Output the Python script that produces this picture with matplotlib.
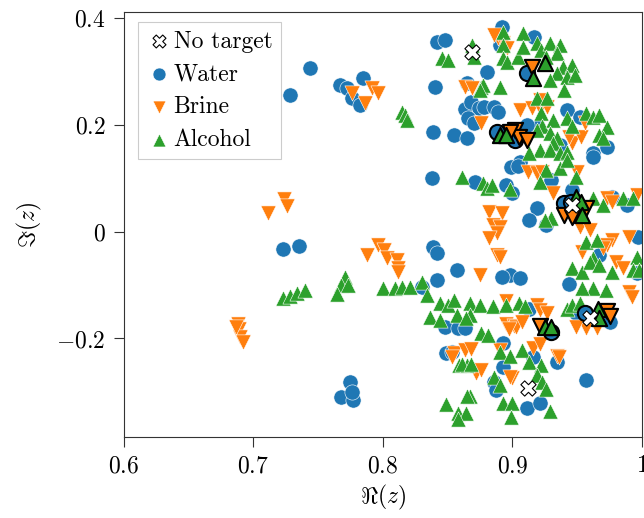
import matplotlib
matplotlib.use("Agg")
import matplotlib.pyplot as plt
import numpy as np

plt.rcParams['mathtext.fontset'] = 'cm'
plt.rcParams['font.family'] = ['cmr10', 'DejaVu Serif']
plt.rcParams['axes.formatter.use_mathtext'] = True

# ---------------- data ----------------
water = [
    (0.744, 0.307), (0.728, 0.256), (0.767, 0.275), (0.772, 0.270), (0.776, 0.251), (0.782, 0.238), (0.785, 0.288),
    (0.840, 0.272), (0.839, 0.187), (0.855, 0.181), (0.865, 0.176), (0.838, 0.100),
    (0.842, 0.356), (0.848, 0.360), (0.880, 0.300),
    (0.863, 0.230), (0.868, 0.243), (0.874, 0.232), (0.878, 0.234), (0.866, 0.213), (0.870, 0.204),
    (0.892, 0.383), (0.890, 0.350), (0.917, 0.365), (0.865, 0.279), (0.886, 0.234), (0.889, 0.224),
    (0.942, 0.228), (0.952, 0.215), (0.962, 0.147), (0.973, 0.159), (0.906, 0.130), (0.920, 0.196), (0.911, 0.200), (0.937, 0.163),
    (0.871, 0.093), (0.899, 0.121), (0.904, 0.124), (0.895, 0.087), (0.900, 0.072), (0.930, 0.097), (0.946, 0.078),
    (0.962, 0.140), (0.977, 0.065), (0.988, 0.050), (0.919, 0.044), (0.913, 0.022), (0.926, 0.013),
    (0.839, -0.029), (0.842, -0.040), (0.857, -0.072), (0.842, -0.091), (0.830, -0.104), (0.898, -0.081),
    (0.892, -0.085), (0.906, -0.087), (0.944, -0.097), (0.997, -0.010), (0.996, -0.078), (0.967, -0.044),
    (0.723, -0.033), (0.735, -0.027),
    (0.775, -0.282), (0.768, -0.310), (0.777, -0.316), (0.776, -0.300),
    (0.848, -0.179), (0.858, -0.181), (0.863, -0.180), (0.849, -0.228), (0.853, -0.226), (0.893, -0.209),
    (0.893, -0.254), (0.886, -0.282), (0.887, -0.297), (0.911, -0.331), (0.921, -0.321), (0.916, -0.235),
    (0.934, -0.245), (0.957, -0.278), (0.913, -0.144), (0.949, -0.153), (0.975, -0.170),
]
water_target = [(0.911, 0.298), (0.888, 0.187), (0.902, 0.172), (0.940, 0.053), (0.945, 0.055),
                (0.930, -0.188), (0.956, -0.153)]

brine = [
    (0.776, 0.260), (0.786, 0.241), (0.792, 0.270), (0.796, 0.260),
    (0.863, 0.271), (0.869, 0.270), (0.876, 0.204),
    (0.889, 0.363), (0.893, 0.354), (0.896, 0.344), (0.886, 0.369),
    (0.906, 0.228), (0.915, 0.232), (0.921, 0.232), (0.927, 0.234), (0.921, 0.247), (0.946, 0.166),
    (0.953, 0.178), (0.956, 0.204), (0.944, 0.178),
    (0.711, 0.035), (0.724, 0.061), (0.726, 0.048),
    (0.688, -0.172), (0.689, -0.183), (0.690, -0.197), (0.692, -0.207), (0.687, -0.178),
    (0.788, -0.044), (0.796, -0.025), (0.801, -0.034), (0.803, -0.050), (0.811, -0.053), (0.812, -0.068), (0.812, -0.075),
    (0.875, -0.081),
    (0.855, -0.228), (0.863, -0.222), (0.868, -0.219), (0.872, -0.264),
    (0.912, 0.112), (0.919, 0.110), (0.923, 0.112), (0.950, 0.112), (0.931, 0.072),
    (0.882, 0.037), (0.892, 0.035), (0.885, 0.013), (0.890, 0.009), (0.888, -0.003), (0.882, -0.012),
    (0.888, -0.044), (0.890, -0.048),
    (0.952, 0.009), (0.960, 0.003), (0.973, 0.063), (0.977, 0.055), (0.996, 0.069), (0.990, -0.010),
    (0.977, -0.016), (0.973, -0.025), (0.980, -0.057), (0.985, -0.068), (0.954, -0.038), (0.990, -0.113), (0.970, -0.031),
    (0.895, -0.129), (0.919, -0.138), (0.921, -0.147), (0.927, -0.153), (0.895, -0.172), (0.901, -0.176),
    (0.903, -0.179), (0.907, -0.170), (0.897, -0.182),
    (0.853, -0.234), (0.876, -0.259), (0.890, -0.222), (0.900, -0.275), (0.898, -0.273), (0.916, -0.217),
    (0.921, -0.210), (0.934, -0.232), (0.936, -0.235), (0.957, -0.181), (0.965, -0.181), (0.992, -0.123), (0.949, -0.179),
]
brine_target = [(0.915, 0.309), (0.902, 0.191), (0.905, 0.178), (0.911, 0.172), (0.898, 0.187),
                (0.940, 0.031), (0.946, 0.028), (0.957, 0.044), (0.921, -0.176), (0.973, -0.148), (0.975, -0.157)]

alcohol = [
    (0.664, 0.247),
    (0.815, 0.224), (0.817, 0.219), (0.819, 0.209),
    (0.846, 0.326), (0.850, 0.322), (0.869, 0.350), (0.870, 0.328),
    (0.861, 0.102), (0.877, 0.091), (0.880, 0.082),
    (0.876, 0.271), (0.877, 0.275), (0.875, 0.266), (0.890, 0.271),
    (0.893, 0.375), (0.908, 0.372), (0.893, 0.350), (0.893, 0.326), (0.896, 0.318), (0.904, 0.328), (0.908, 0.347),
    (0.919, 0.354), (0.922, 0.341), (0.929, 0.354), (0.937, 0.350), (0.934, 0.335), (0.926, 0.328), (0.939, 0.309),
    (0.946, 0.313), (0.934, 0.298), (0.929, 0.285), (0.942, 0.290), (0.948, 0.294), (0.940, 0.266),
    (0.919, 0.251), (0.927, 0.251), (0.922, 0.222), (0.923, 0.199), (0.931, 0.209), (0.942, 0.213), (0.946, 0.199),
    (0.957, 0.222), (0.962, 0.215), (0.967, 0.219), (0.973, 0.196), (0.967, 0.181), (0.970, 0.175), (0.919, 0.190),
    (0.929, 0.185), (0.934, 0.175), (0.931, 0.166), (0.921, 0.153), (0.929, 0.153), (0.937, 0.147), (0.942, 0.149), (0.913, 0.147),
    (0.884, 0.087), (0.898, 0.081), (0.926, 0.115), (0.937, 0.119), (0.949, 0.102), (0.942, 0.134), (0.921, 0.093),
    (0.930, 0.025), (0.925, 0.022), (0.962, 0.063), (0.970, 0.050), (0.985, 0.063), (0.993, 0.063),
    (0.957, -0.019), (0.965, -0.015), (0.962, -0.049), (0.996, -0.048), (0.977, -0.076), (0.993, -0.072), (0.998, -0.072),
    (0.946, -0.068), (0.954, -0.076), (0.960, -0.057), (0.967, -0.063), (0.962, -0.106), (0.954, -0.106), (0.972, -0.110),
    (0.723, -0.125), (0.728, -0.121), (0.734, -0.115), (0.740, -0.110),
    (0.771, -0.085), (0.768, -0.100), (0.765, -0.116), (0.773, -0.100), (0.800, -0.106), (0.809, -0.106), (0.815, -0.104),
    (0.821, -0.104), (0.830, -0.094), (0.834, -0.119), (0.844, -0.134), (0.850, -0.138), (0.855, -0.128), (0.867, -0.134),
    (0.875, -0.138), (0.836, -0.160), (0.844, -0.166), (0.857, -0.156), (0.867, -0.156), (0.876, -0.190), (0.881, -0.194),
    (0.885, -0.140), (0.895, -0.138), (0.905, -0.134), (0.910, -0.140), (0.942, -0.144), (0.946, -0.138), (0.952, -0.134), (0.864, -0.162),
    (0.890, -0.226), (0.898, -0.232), (0.907, -0.222), (0.913, -0.245), (0.922, -0.250), (0.919, -0.269), (0.923, -0.282),
    (0.926, -0.294), (0.886, -0.272), (0.890, -0.287), (0.859, -0.250), (0.865, -0.250), (0.867, -0.307), (0.849, -0.322),
    (0.858, -0.339), (0.864, -0.339), (0.858, -0.350), (0.893, -0.320), (0.900, -0.320), (0.899, -0.348), (0.929, -0.335),
    (0.861, -0.247), (0.868, -0.247), (0.865, -0.307),
]
alcohol_target = [(0.916, 0.288), (0.925, 0.316), (0.890, 0.181), (0.895, 0.181), (0.949, 0.065), (0.953, 0.055),
                  (0.954, 0.031), (0.925, -0.179), (0.930, -0.179), (0.966, -0.144), (0.967, -0.162)]

no_target = [(0.869, 0.337), (0.946, 0.050), (0.960, -0.162), (0.912, -0.293)]

labels = ["No target", "Water", "Brine", "Alcohol"]
colors = {"Water": "#1f77b4", "Brine": "#ff7f0e", "Alcohol": "#2ca02c"}
markers = {"Water": "o", "Brine": "v", "Alcohol": "^"}

xticks = [0.6, 0.7, 0.8, 0.9, 1.0]
xticklabels = ["$0.6$", "$0.7$", "$0.8$", "$0.9$", "$1$"]
yticks = [-0.2, 0.0, 0.2, 0.4]
yticklabels = ["$-0.2$", "$0$", "$0.2$", "$0.4$"]

# ---------------- plot ----------------
fig = plt.figure(figsize=(6.44, 5.18), dpi=100)
ax = fig.add_axes([0.192, 0.156, 0.805, 0.821])

S = 120
handles = {}
for name, pts in [("Water", water), ("Brine", brine), ("Alcohol", alcohol)]:
    a = np.array(pts)
    handles[name] = ax.scatter(a[:, 0], a[:, 1], s=S, marker=markers[name], c=colors[name],
                               edgecolors="white", linewidths=0.4, zorder=2)
for name, tpts in [("Water", water_target), ("Brine", brine_target), ("Alcohol", alcohol_target)]:
    t = np.array(tpts)
    ax.scatter(t[:, 0], t[:, 1], s=S, marker=markers[name], c=colors[name],
               edgecolors="black", linewidths=1.5, zorder=3)
nt = np.array(no_target)
handles["No target"] = ax.scatter(nt[:, 0], nt[:, 1], s=120, marker="X", c="white",
                                  edgecolors="black", linewidths=0.8, zorder=4)

ax.set_xlim(0.6, 1.0)
ax.set_ylim(-0.385, 0.412)
ax.set_xticks(xticks)
ax.set_xticklabels(xticklabels)
ax.set_yticks(yticks)
ax.set_yticklabels(yticklabels)
ax.tick_params(direction="out", length=7, width=0.8, colors="#333333", labelcolor="black",
               labelsize=17, pad=6)
for sp in ax.spines.values():
    sp.set_color("#333333")
    sp.set_linewidth(0.8)

ax.set_xlabel(r"$\Re(z)$", fontsize=17, labelpad=4)
ax.set_ylabel(r"$\Im(z)$", fontsize=17, labelpad=9)

leg = ax.legend([handles[l] for l in labels], labels, loc="upper left",
                bbox_to_anchor=(0.028, 0.976), fontsize=17, fancybox=False, framealpha=1,
                edgecolor="#cccccc", handletextpad=0.05, handlelength=1.1,
                labelspacing=0.45, borderpad=0.35, borderaxespad=0.0, markerscale=0.85)
leg.get_frame().set_linewidth(0.8)
leg.set_zorder(10)

fig.savefig("out.png", dpi=100)
